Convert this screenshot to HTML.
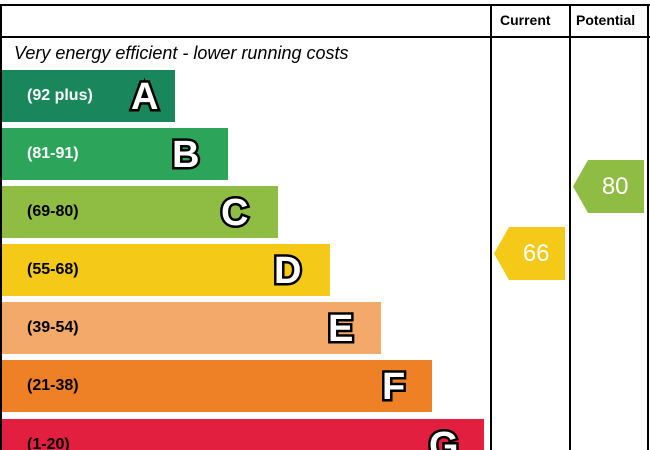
<!DOCTYPE html>
<html><head><style>
html,body{margin:0;width:650px;height:450px;overflow:hidden}
body{background:#fff;font-family:"Liberation Sans",sans-serif;position:relative}
.l{position:absolute;background:#000}
.bar{position:absolute;left:2px;height:52px}
.r{position:absolute;left:25px;top:0;line-height:52px;font-weight:bold;font-size:16px;color:#000}
.k{position:absolute;top:1px;line-height:52px;font-weight:bold;font-size:38px;color:#fff;-webkit-text-stroke:5px #000;paint-order:stroke fill}
.h{position:absolute;top:12px;font-weight:bold;font-size:14px}
.ar{position:absolute;width:71px;height:53px;color:#fff;font-size:24px;line-height:53px;text-align:center;clip-path:polygon(0 50%,15px 0,100% 0,100% 100%,15px 100%)}
</style></head><body>
<div class="l" style="left:0;top:4px;width:650px;height:2px"></div>
<div class="l" style="left:0;top:4px;width:2px;height:446px"></div>
<div class="l" style="left:0;top:36px;width:650px;height:2px"></div>
<div class="l" style="left:490px;top:4px;width:2px;height:446px"></div>
<div class="l" style="left:569px;top:4px;width:2px;height:446px"></div>
<div class="l" style="left:647px;top:4px;width:2px;height:446px"></div>
<div class="h" style="left:500px">Current</div>
<div class="h" style="left:576px">Potential</div>
<div style="position:absolute;left:14px;top:43px;font-size:18px;font-style:italic">Very energy efficient - lower running costs</div>
<div class="bar" style="top:70px;width:173px;background:#19875b"><span class="r" style="color:#fff">(92 plus)</span><span class="k" style="left:129px">A</span></div>
<div class="bar" style="top:128px;width:226px;background:#2ca55b"><span class="r" style="color:#fff">(81-91)</span><span class="k" style="left:170px">B</span></div>
<div class="bar" style="top:186px;width:276px;background:#8fbd44"><span class="r">(69-80)</span><span class="k" style="left:219px">C</span></div>
<div class="bar" style="top:244px;width:328px;background:#f5c918"><span class="r">(55-68)</span><span class="k" style="left:272px">D</span></div>
<div class="bar" style="top:302px;width:379px;background:#f2a96a"><span class="r">(39-54)</span><span class="k" style="left:326px">E</span></div>
<div class="bar" style="top:360px;width:430px;background:#ee8026"><span class="r">(21-38)</span><span class="k" style="left:380px">F</span></div>
<div class="bar" style="top:419px;width:482px;height:31px;overflow:hidden;background:#e21f3f"><span class="r">(1-20)</span><span class="k" style="left:427px">G</span></div>
<div class="ar" style="left:494px;top:227px;background:#f5c918">&nbsp;&nbsp;66</div>
<div class="ar" style="left:573px;top:160px;background:#8fbd44">&nbsp;&nbsp;80</div>
</body></html>
